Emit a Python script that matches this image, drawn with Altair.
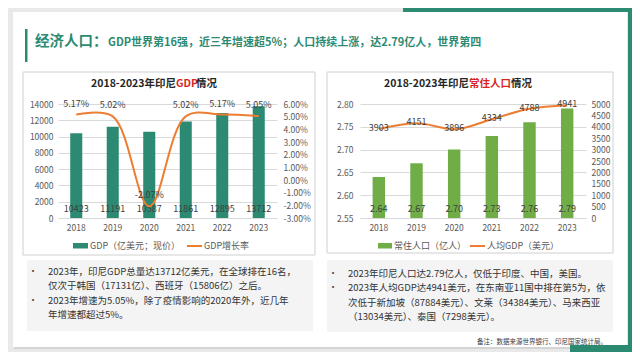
import altair as alt
import pandas as pd

# ---------------- data ----------------
YEARS = ["2018", "2019", "2020", "2021", "2022", "2023"]
GDP = [10423, 11191, 10587, 11861, 12895, 13712]          # 亿美元
GDP_GROWTH = [5.17, 5.02, -2.07, 5.02, 5.17, 5.05]          # %
POPULATION = [2.64, 2.67, 2.70, 2.73, 2.76, 2.79]           # 亿人
GDP_PER_CAPITA = [3903, 4151, 3896, 4334, 4788, 4941]       # 美元

GDP_TICKS = [0, 2000, 4000, 6000, 8000, 10000, 12000, 14000]
GROWTH_TICKS = [-3, -2, -1, 0, 1, 2, 3, 4, 5, 6]
POP_TICKS = [2.55, 2.60, 2.65, 2.70, 2.75, 2.80]
PC_TICKS = [0, 500, 1000, 1500, 2000, 2500, 3000, 3500, 4000, 4500, 5000]

HEADER_MAIN = "经济人口："
HEADER_SUB = "GDP世界第16强，近三年增速超5%；人口持续上涨，达2.79亿人，世界第四"
LEFT_TITLE = ["2018-2023年印尼", "GDP", "情况"]
RIGHT_TITLE = ["2018-2023年印尼", "常住人口", "情况"]
LEFT_LEGEND = ["GDP（亿美元；现价）", "GDP增长率"]
RIGHT_LEGEND = ["常住人口（亿人）", "人均GDP（美元）"]
LEFT_NOTES = [
    "2023年，印尼GDP总量达13712亿美元，在全球排在16名，",
    "仅次于韩国（17131亿）、西班牙（15806亿）之后。",
    "2023年增速为5.05%，除了疫情影响的2020年外，近几年",
    "年增速都超过5%。",
]
RIGHT_NOTES = [
    "2023年印尼人口达2.79亿人，仅低于印度、中国，美国。",
    "2023年人均GDP达4941美元，在东南亚11国中排在第5为，依",
    "次低于新加坡（87884美元）、文莱（34384美元）、马来西亚",
    "（13034美元）、泰国（7298美元）。",
]
SOURCE = "备注：数据来源世界银行、印尼国家统计局。"

# ---------------- style ----------------
FONT = "Noto Sans CJK SC"
TEAL = "#2d8a72"
GREEN = "#70ad47"
ORANGE = "#ed7d31"
RED = "#d9251d"
GRID = "#d9d9d9"
LABEL = "#595959"
BG = "#e9e9e9"
AX = 8.5
W, H = 624, 344


def P(v):
    """page pixel -> chart pixel (page has an 8px margin)"""
    return v - 8


ONE = alt.Data(values=[{"k": 0}])


def box(x1, y1, x2, y2, **kw):
    return alt.Chart(ONE).mark_rect(**kw).encode(
        x=alt.value(P(x1)), x2=alt.value(P(x2)), y=alt.value(P(y1)), y2=alt.value(P(y2)))


def label(s, x, y, size, color="#404040", align="left", weight="normal", baseline="middle", **kw):
    return alt.Chart(ONE).mark_text(text=s, align=align, baseline=baseline, fontSize=size,
                                    fontWeight=weight, color=color, font=FONT, **kw).encode(
        x=alt.value(P(x)), y=alt.value(P(y)))


def hline(x1, x2, y, color, width=2):
    return alt.Chart(ONE).mark_rule(color=color, strokeWidth=width).encode(
        x=alt.value(P(x1)), x2=alt.value(P(x2)), y=alt.value(P(y)))


def x_axis_enc(x0, x1):
    return alt.X("year:O", sort=YEARS, title=None,
                 scale=alt.Scale(range=[P(x0), P(x1)], paddingInner=0.67, paddingOuter=0.335),
                 axis=alt.Axis(orient="bottom", offset=P(218) - H, labelAngle=0, ticks=False,
                               domainColor=GRID, labelPadding=5, labelFontSize=AX,
                               labelColor=LABEL, grid=False, labelFont=FONT))


# ---------------- left chart: GDP ----------------
gdp_df = pd.DataFrame({
    "year": YEARS, "gdp": GDP, "growth": GDP_GROWTH,
    "growth_label": [f"{v:.2f}%" for v in GDP_GROWTH],
})
xL = x_axis_enc(58, 277)
y_gdp = alt.Y("gdp:Q", title=None,
              scale=alt.Scale(domain=[0, 14000], range=[P(218), P(104)], nice=False),
              axis=alt.Axis(orient="left", offset=-P(58), values=GDP_TICKS, format="d", grid=True,
                            gridColor=GRID, domain=False, ticks=False, labelPadding=5,
                            labelFontSize=AX, labelColor=LABEL, labelFont=FONT))
y_growth = alt.Y("growth:Q", title=None,
                 scale=alt.Scale(domain=[-3, 6], range=[P(218), P(104)], nice=False, zero=False),
                 axis=alt.Axis(orient="right", offset=P(277) - W, values=GROWTH_TICKS,
                               labelExpr="(datum.value < 0 ? '-' : '') + format(abs(datum.value), '.2f') + '%'",
                               grid=False, domain=False, ticks=False, labelPadding=6,
                               labelFontSize=AX, labelColor=LABEL, labelFont=FONT))
baseL = alt.Chart(gdp_df)
bars_l = baseL.mark_bar(color=TEAL).encode(x=xL, y=y_gdp)
barlab_l = baseL.mark_text(dy=-9, fontSize=9, color="#404040", font=FONT).encode(
    x=xL, y=alt.datum(0), text=alt.Text("gdp:Q", format="d"))
line_l = baseL.mark_line(color=ORANGE, strokeWidth=2, interpolate="catmull-rom").encode(x=xL, y=y_growth)
linelab_l = baseL.mark_text(dy=-11, fontSize=9, color="#404040", font=FONT).encode(
    x=xL, y=y_growth, text="growth_label:N")
left_chart = alt.layer(alt.layer(bars_l, barlab_l), alt.layer(line_l, linelab_l)).resolve_scale(y="independent")

# ---------------- right chart: population ----------------
pop_df = pd.DataFrame({"year": YEARS, "pop": POPULATION, "pc": GDP_PER_CAPITA})
xR = x_axis_enc(360, 586)
y_pop = alt.Y("pop:Q", title=None,
              scale=alt.Scale(domain=[2.55, 2.80], range=[P(218), P(104)], nice=False, zero=False),
              axis=alt.Axis(orient="left", offset=-P(360), values=POP_TICKS, format=".2f", grid=True,
                            gridColor=GRID, domain=False, ticks=False, labelPadding=7,
                            labelFontSize=AX, labelColor=LABEL, labelFont=FONT))
y_pc = alt.Y("pc:Q", title=None,
             scale=alt.Scale(domain=[0, 5000], range=[P(218), P(104)], nice=False),
             axis=alt.Axis(orient="right", offset=P(586) - W, values=PC_TICKS, format="d",
                           grid=False, domain=False, ticks=False, labelPadding=5,
                           labelFontSize=AX, labelColor=LABEL, labelFont=FONT))
baseR = alt.Chart(pop_df)
bars_r = baseR.mark_bar(color=GREEN).encode(x=xR, y=y_pop, y2=alt.datum(2.55))
barlab_r = baseR.mark_text(dy=-9, fontSize=9, color="#404040", font=FONT).encode(
    x=xR, y=alt.datum(2.55), text=alt.Text("pop:Q", format=".2f"))
line_r = baseR.mark_line(color=ORANGE, strokeWidth=2, interpolate="monotone").encode(x=xR, y=y_pc)
linelab_r = baseR.mark_text(dy=-1, fontSize=9, color="#404040", font=FONT).encode(
    x=xR, y=y_pc, text=alt.Text("pc:Q", format="d"))
right_chart = alt.layer(alt.layer(bars_r, barlab_r), alt.layer(line_r, linelab_r)).resolve_scale(y="independent")

# ---------------- decorations & texts ----------------
layers = [
    # gray frame around the white slide panel
    box(0, 0, 640, 12, color=BG),
    box(0, 0, 13, 360, color=BG),
    box(627, 0, 640, 360, color=BG),
    box(0, 347, 640, 360, color=BG),
    box(14, 347, 628, 349, color="#d4d4d4"),
    # green accents
    box(403, 0, 640, 12, color=TEAL),
    box(628, 0, 640, 360, color=TEAL),
    box(570, 345, 640, 360, color=TEAL),
    box(25, 29, 27.5, 62, color=TEAL),
    label(HEADER_MAIN, 35, 42, 14.5, color=TEAL, weight="bold"),
    label(HEADER_SUB, 108, 43, 11, color=TEAL, weight="bold"),
    box(23, 72, 315, 255, filled=False, stroke="#d0d0d0", strokeWidth=1),
    box(327, 72, 613, 253, filled=False, stroke="#d0d0d0", strokeWidth=1),
    label(LEFT_TITLE[0], 176, 84, 10.5, color="#262626", align="right", weight="bold"),
    label(LEFT_TITLE[1], 176, 84, 10.5, color=RED, weight="bold"),
    label(LEFT_TITLE[2], 196, 84, 10.5, color="#262626", weight="bold"),
    label(RIGHT_TITLE[0], 469, 84, 10.5, color="#262626", align="right", weight="bold"),
    label(RIGHT_TITLE[1], 469, 84, 10.5, color=RED, weight="bold"),
    label(RIGHT_TITLE[2], 511, 84, 10.5, color="#262626", weight="bold"),
    left_chart,
    right_chart,
    box(73, 243, 88, 248.5, color=TEAL),
    label(LEFT_LEGEND[0], 90, 246, 9, color=LABEL),
    hline(187, 202, 246, ORANGE),
    label(LEFT_LEGEND[1], 204, 246, 9, color=LABEL),
    box(378, 243, 392, 248.5, color=GREEN),
    label(RIGHT_LEGEND[0], 394, 246, 9, color=LABEL),
    hline(470, 485, 246, ORANGE),
    label(RIGHT_LEGEND[1], 487, 246, 9, color=LABEL),
    box(27, 260, 313, 331, color="#f4f4f4"),
    box(327, 260, 613, 332, color="#f4f4f4"),
    label("•", 33, 271, 9, color="#404040", align="center"),
    label("•", 33, 299.6, 9, color="#404040", align="center"),
    label(LEFT_NOTES, 48, 267, 9.5, color="#333333", baseline="top", lineHeight=14.3),
    label("•", 333, 273, 9, color="#404040", align="center"),
    label("•", 333, 287.3, 9, color="#404040", align="center"),
    label(RIGHT_NOTES, 348, 269, 9.5, color="#333333", baseline="top", lineHeight=14.3),
    label(SOURCE, 607, 342, 6.5, color="#404040", align="right"),
]

chart = alt.layer(*layers).resolve_scale(x="independent", y="independent").properties(
    width=W, height=H, background="white", padding=0,
    autosize=alt.AutoSizeParams(type="none"),
).configure(font=FONT).configure_view(strokeWidth=0)

chart.save("out.html", embed_options={"renderer": "svg", "actions": False})
